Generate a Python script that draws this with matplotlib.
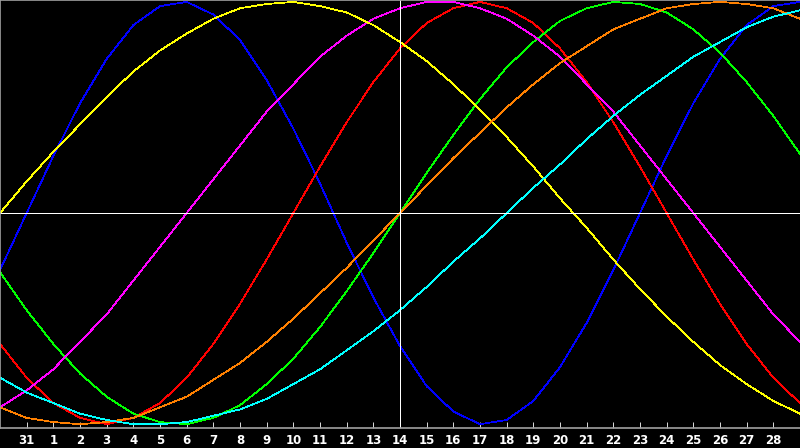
import numpy as np
from matplotlib import pyplot as plt

# biorhythm cycles, percent, one value per day (31 days shown, today in the middle)
physical = [-27, 0, 27, 52, 73, 89, 98, 100, 94, 82, 63, 40, 14, -14, -40, -63,
            -82, -94, -100, -98, -89, -73, -52, -27, 0, 27, 52, 73, 89, 98, 100]
emotional = [-62, -78, -90, -97, -100, -97, -90, -78, -62, -43, -22, 0, 22, 43, 62, 78,
             90, 97, 100, 97, 90, 78, 62, 43, 22, 0, -22, -43, -62, -78, -90]
intellectual = [-28, -46, -62, -76, -87, -95, -99, -100, -97, -91, -81, -69, -54, -37, -19, 0,
                19, 37, 54, 69, 81, 91, 97, 100, 99, 95, 87, 76, 62, 46, 28]
intuitive = [-92, -84, -74, -61, -48, -32, -16, 0, 16, 32, 48, 61, 74, 84, 92, 97,
             100, 100, 97, 92, 84, 74, 61, 48, 32, 16, 0, -16, -32, -48, -61]
aesthetic = [0, 15, 29, 42, 55, 67, 77, 85, 92, 97, 99, 100, 98, 95, 89, 81,
             72, 61, 49, 36, 22, 7, -7, -22, -36, -49, -61, -72, -81, -89, -95]
awareness = [-92, -97, -99, -100, -99, -97, -92, -87, -79, -71, -61, -50, -38, -26, -13, 0,
             13, 26, 38, 50, 61, 71, 79, 87, 92, 97, 99, 100, 99, 97, 92]
spiritual = [-78, -85, -90, -95, -98, -100, -100, -99, -96, -93, -88, -81, -74, -65, -56, -46,
             -35, -23, -12, 0, 12, 23, 35, 46, 56, 65, 74, 81, 88, 93, 96]

day_labels = ['31'] + [str(d) for d in range(1, 29)]
today = 15  # index of the day in the middle (the 14th)

series = [
    (physical, '#0000ff'),
    (emotional, '#ff0000'),
    (intellectual, '#00ff00'),
    (intuitive, '#ff00ff'),
    (aesthetic, '#ffff00'),
    (awareness, '#ff8000'),
    (spiritual, '#00ffff'),
]

fig = plt.figure(figsize=(8, 4.48), dpi=100, facecolor='black')
ax = fig.add_axes([0, 20 / 448, 1, 428 / 448])
ax.set_facecolor('black')

days = np.arange(len(physical))
for values, color in series:
    ax.plot(days, values, color=color, linewidth=0.55, antialiased=False)

ax.axhline(0, color='white', linewidth=0.55, antialiased=False)
ax.axvline(today, color='white', linewidth=0.55, antialiased=False)

ax.set_xlim(0, len(physical) - 1)
ax.set_ylim(-101.8, 100.9)

ax.set_xticks(np.arange(1, len(day_labels) + 1))
ax.set_xticklabels(day_labels)
ax.set_yticks([])
ax.tick_params(axis='x', direction='in', length=4, width=0.6, color='white',
               labelcolor='white', labelsize=8.5, pad=4)
for lbl in ax.get_xticklabels():
    lbl.set_fontweight('bold')

for side in ['left', 'top', 'bottom']:
    ax.spines[side].set_color('#a0a0a0')
    ax.spines[side].set_linewidth(1.2)
ax.spines['right'].set_visible(False)

fig.savefig('out.png', dpi=100, facecolor='black')
